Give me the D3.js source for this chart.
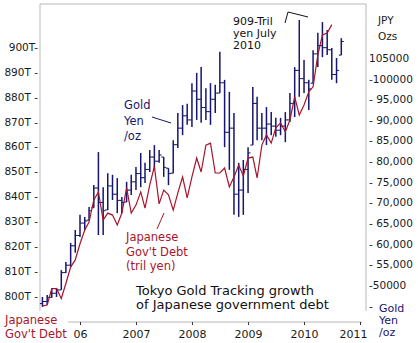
<!DOCTYPE html>
<html>
<head>
<meta charset="utf-8">
<script src="https://cdn.jsdelivr.net/npm/d3@7"></script>
<style>
    body { margin: 0; background: #fff; }
    svg { display: block; font-family: "DejaVu Sans", Verdana, sans-serif; }
</style>
</head>
<body>
<div id="chart-area"></div>
<script>
/*
*    tokyo gold vs japanese government debt
*/

// monthly gold bars (yen per oz), May 2005 - Sep 2010
var months = [
    "2005-05","2005-06","2005-07","2005-08","2005-09","2005-10","2005-11","2005-12",
    "2006-01","2006-02","2006-03","2006-04","2006-05","2006-06","2006-07","2006-08","2006-09","2006-10","2006-11","2006-12",
    "2007-01","2007-02","2007-03","2007-04","2007-05","2007-06","2007-07","2007-08","2007-09","2007-10","2007-11","2007-12",
    "2008-01","2008-02","2008-03","2008-04","2008-05","2008-06","2008-07","2008-08","2008-09","2008-10","2008-11","2008-12",
    "2009-01","2009-02","2009-03","2009-04","2009-05","2009-06","2009-07","2009-08","2009-09","2009-10","2009-11","2009-12",
    "2010-01","2010-02","2010-03","2010-04","2010-05","2010-06","2010-07","2010-08","2010-09"
];

var goldOpen = [
    45500, 46000, 47000, 48000, 48800, 53000, 54800, 59500, 62000, 65000,
    65700, 68700, 73500, 70000, 68200, 74000, 72000, 70500, 70100, 73000,
    75000, 77000, 76000, 78000, 81000, 80000, 81000, 78300, 77100, 84000,
    88000, 91000, 90000, 97000, 95000, 93000, 92000, 95000, 96500, 99000,
    87000, 88000, 72000, 73000, 78000, 83900, 94000, 88000, 88000, 89000,
    88500, 87500, 88500, 90000, 94000, 102000, 100000, 99000, 98900, 106000,
    108000, 107500, 107000, 101000, 105700
];

var goldHigh = [
    47100, 47600, 49300, 49300, 53600, 55600, 60200, 63300, 67000, 66500,
    68900, 74200, 82200, 73700, 77100, 76700, 75900, 71300, 75000, 76700,
    78600, 82000, 79600, 82700, 83900, 82700, 81000, 78300, 85100, 91700,
    93600, 93900, 98900, 101400, 102800, 97700, 98900, 98500, 106500, 99700,
    96800, 91700, 79600, 80300, 83400, 98000, 95600, 91700, 93100, 91900,
    90500, 90500, 91900, 96500, 102800, 114200, 104500, 99700, 106900, 111100,
    113700, 111800, 107400, 105000, 109800
];

var goldLow = [
    44700, 45200, 46900, 47100, 48800, 52900, 54400, 57800, 61600, 63300,
    65700, 68700, 62100, 62100, 68200, 70600, 67400, 67400, 70100, 71800,
    73000, 73700, 74700, 77400, 77900, 79600, 76200, 74200, 77100, 83200,
    86300, 88800, 88300, 90000, 89300, 90000, 88800, 91700, 96500, 83400,
    77900, 67000, 66500, 67000, 72300, 83900, 85100, 85100, 83900, 86300,
    85900, 86300, 84600, 89500, 90700, 95600, 96500, 92400, 98900, 102800,
    105200, 105700, 99700, 98900, 105700
];

var goldClose = [
    46000, 47000, 48000, 48800, 53000, 54800, 59500, 62000, 65000, 65500,
    68000, 73500, 70000, 68000, 74000, 72000, 70500, 70000, 73000, 75000,
    77000, 76000, 78000, 81000, 80000, 81500, 78500, 77000, 84000, 88000,
    91000, 90000, 97000, 95000, 93000, 92000, 95000, 96500, 99000, 87000,
    88000, 72000, 73000, 78000, 82000, 94000, 88000, 88000, 89000, 88500,
    87500, 88500, 90000, 94000, 102000, 100000, 99000, 97500, 106000, 108000,
    107500, 107000, 101000, 102000, 109000
];

// government debt, trillion yen, May 2005 - Jul 2010
var debt = [
    796, 796.4, 803, 803, 799, 805, 811.6, 814.5, 821, 826.5,
    829.7, 838.6, 841.8, 830.5, 833.3, 832.5, 828.5, 833.3, 843.4, 833.3,
    836.5, 841.8, 835.3, 844.6, 852, 837, 842.5, 840.6, 834.5, 841.4,
    847.8, 839.4, 847.8, 855.4, 849.8, 860.6, 861.4, 849.4, 849.4, 851.4,
    843.8, 847.8, 852.6, 848.2, 855.4, 855.8, 847.4, 860.6, 864.7, 861.4,
    867.5, 869.5, 865.9, 870.7, 880, 872.7, 876.7, 882, 884, 896.8,
    904.8, 905.6, 909
];

var leftTicks = [800, 810, 820, 830, 840, 850, 860, 870, 880, 890, 900];
var leftTickLabels = ["800T -", "810T -", "820T -", "830T -", "840T -", "850T -",
    "860T -", "870T -", "880T -", "890T -", "900T-"];

var rightTicks = [45000, 50000, 55000, 60000, 65000, 70000, 75000, 80000, 85000, 90000, 95000, 100000, 105000];
var rightTickLabels = ["-", "-50000", "- 55,000", "- 60,000", "- 65,000", "- 70,000", "- 75,000",
    "- 80,000", "- 85,000", "- 90,000", "- 95,000", "-100000", "105000"];

var yearTicks = ["2006-01", "2007-01", "2008-01", "2009-01", "2010-01", "2011-01"];
var yearLabels = ["06", "2007", "2008", "2009", "2010", "2011"];

var width = 418;
var height = 343;

var frame = { left: 40, right: 366, top: 4, bottom: 311, axisY: 322, axisStart: 68 };

var navy = "#16166e";
var red = "#a8142c";
var grey = "#b8b8b8";

var parseMonth = d3.timeParse("%Y-%m");

var svg = d3.select("#chart-area").append("svg")
    .attr("width", width)
    .attr("height", height);

var x = d3.scaleTime()
    .domain([parseMonth("2006-01"), parseMonth("2011-01")])
    .range([80, 360]);

var yDebt = d3.scaleLinear()
    .domain([800, 900])
    .range([296, 47]);

var yGold = d3.scaleLinear()
    .domain([50000, 105000])
    .range([285, 58]);

// frame
svg.append("path")
    .attr("d", "M" + frame.left + "," + frame.bottom + "V" + frame.top + "H" + frame.right + "V" + frame.bottom)
    .attr("fill", "none")
    .attr("stroke", grey)
    .attr("stroke-width", 1);

svg.append("line")
    .attr("x1", frame.axisStart)
    .attr("x2", frame.right - 4)
    .attr("y1", frame.axisY)
    .attr("y2", frame.axisY)
    .attr("stroke", grey);

// left axis
var leftAxis = svg.append("g")
    .attr("transform", "translate(" + (frame.left - 1) + ",0)")
    .call(d3.axisLeft(yDebt)
        .tickValues(leftTicks)
        .tickFormat((d, i) => leftTickLabels[i])
        .tickSize(0)
        .tickPadding(1));
leftAxis.select(".domain").remove();

// right axis
var rightAxis = svg.append("g")
    .attr("transform", "translate(" + frame.right + ",0)")
    .call(d3.axisRight(yGold)
        .tickValues(rightTicks)
        .tickFormat((d, i) => rightTickLabels[i])
        .tickSize(0)
        .tickPadding(3));
rightAxis.select(".domain").remove();

// x axis
var xAxis = svg.append("g")
    .attr("transform", "translate(0," + frame.axisY + ")")
    .call(d3.axisBottom(x)
        .tickValues(yearTicks.map(parseMonth))
        .tickFormat((d, i) => yearLabels[i])
        .tickSize(3)
        .tickSizeOuter(0)
        .tickPadding(5));
xAxis.select(".domain").remove();
xAxis.selectAll("text").filter((d, i) => i == yearLabels.length - 1).attr("dx", -7);

svg.selectAll(".tick text")
    .attr("font-family", "DejaVu Sans, Verdana, sans-serif")
    .attr("font-size", 10.5)
    .attr("fill", "#1a1a1a");
xAxis.selectAll("text").attr("font-size", 11);
svg.selectAll(".tick line").attr("stroke", "#333");

// gold monthly bars
var bars = svg.append("g").attr("class", "gold")
    .selectAll("g")
    .data(months)
    .enter()
    .append("g")
        .attr("stroke", navy);

bars.append("line")
    .attr("x1", (d) => x(parseMonth(d)))
    .attr("x2", (d) => x(parseMonth(d)))
    .attr("y1", (d, i) => yGold(goldHigh[i]))
    .attr("y2", (d, i) => yGold(goldLow[i]))
    .attr("stroke-width", 1.5);

bars.append("line")
    .attr("x1", (d) => x(parseMonth(d)) - 2.5)
    .attr("x2", (d) => x(parseMonth(d)))
    .attr("y1", (d, i) => yGold(goldOpen[i]))
    .attr("y2", (d, i) => yGold(goldOpen[i]))
    .attr("stroke-width", 1);

bars.append("line")
    .attr("x1", (d) => x(parseMonth(d)))
    .attr("x2", (d) => x(parseMonth(d)) + 2.5)
    .attr("y1", (d, i) => yGold(goldClose[i]))
    .attr("y2", (d, i) => yGold(goldClose[i]))
    .attr("stroke-width", 1);

// debt line
var debtLine = d3.line()
    .x((d, i) => x(parseMonth(months[i])))
    .y((d) => yDebt(d));

svg.append("path")
    .datum(debt)
    .attr("d", debtLine)
    .attr("fill", "none")
    .attr("stroke", red)
    .attr("stroke-width", 1.2);

// labels
function addLines(lines, px, py, step, color, size) {
    var t = svg.append("text")
        .attr("x", px)
        .attr("y", py)
        .attr("fill", color)
        .attr("font-size", size);
    lines.forEach((s, i) => {
        t.append("tspan")
            .attr("x", px)
            .attr("dy", i == 0 ? 0 : step)
            .text(s);
    });
}

addLines(["Gold", "Yen", "/oz"], 124, 109, 15.5, navy, 11.5);
addLines(["Japanese", "Gov't Debt", "(tril yen)"], 126, 241, 14.5, red, 11.5);
addLines(["Tokyo Gold Tracking growth", "of Japanese government debt"], 136, 295, 13.5, "#111", 13);
addLines(["Japanese", "Gov't Debt"], 5, 324, 14, red, 11.5);
addLines(["Gold", "Yen", "/oz"], 379, 312, 12, navy, 11);
addLines(["JPY", "Ozs"], 378, 24, 16, "#222", 10.5);
addLines(["909-Tril", "yen July", "2010"], 233, 25, 12.2, "#111", 11);

// pointers
svg.append("line")
    .attr("x1", 152).attr("y1", 117)
    .attr("x2", 171).attr("y2", 123)
    .attr("stroke", navy);

svg.append("line")
    .attr("x1", 157).attr("y1", 229)
    .attr("x2", 164).attr("y2", 213)
    .attr("stroke", red);

svg.append("polyline")
    .attr("points", "285,23 288,12 308,17")
    .attr("fill", "none")
    .attr("stroke", "#111");
</script>
</body>
</html>
